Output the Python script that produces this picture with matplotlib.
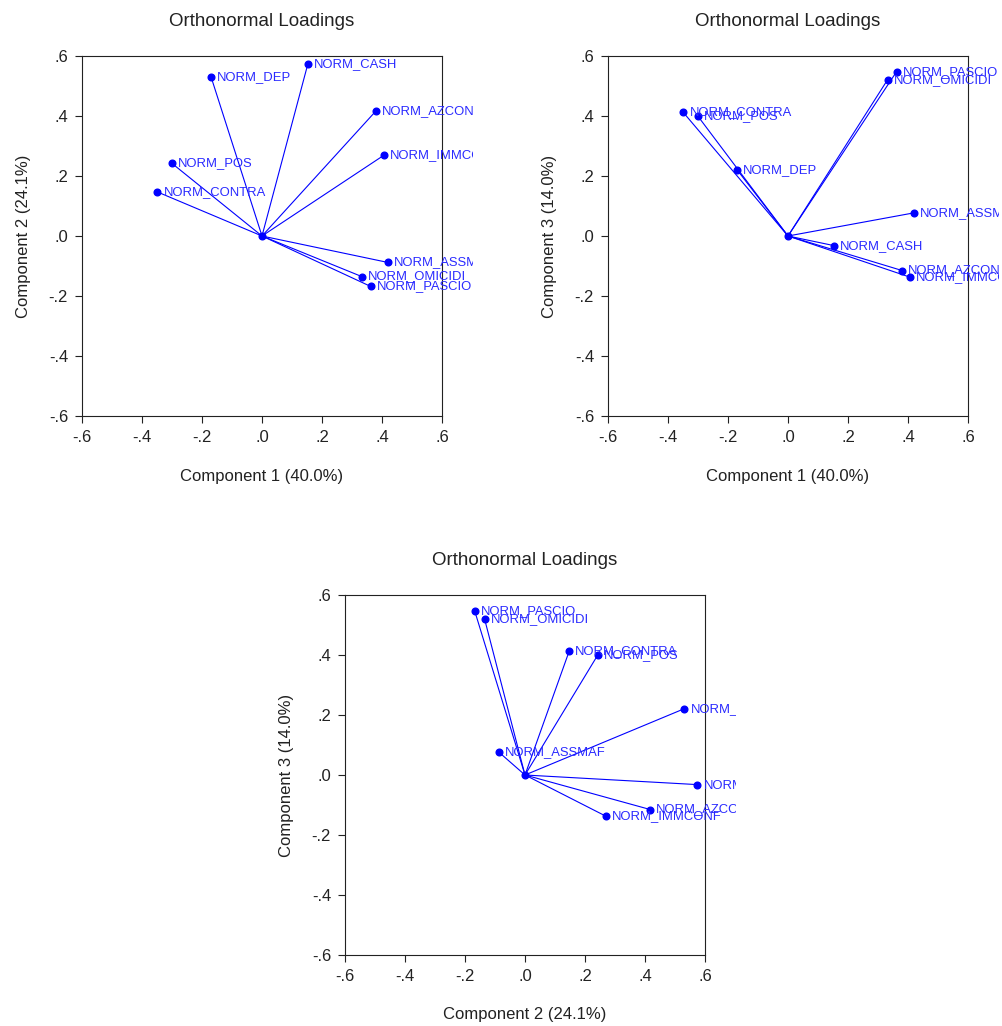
import matplotlib
matplotlib.use("Agg")
import matplotlib.pyplot as plt
from matplotlib.transforms import Bbox, TransformedBbox
from matplotlib.ticker import FuncFormatter, FixedLocator

plt.rcParams['font.family'] = ['Liberation Sans', 'DejaVu Sans']

# loadings of the nine normalised variables on the first three components
variables = ["NORM_DEP", "NORM_CASH", "NORM_AZCONF", "NORM_IMMCONF", "NORM_POS",
             "NORM_CONTRA", "NORM_ASSMAF", "NORM_OMICIDI", "NORM_PASCIO"]
comp1 = [-0.170, 0.153, 0.380, 0.406, -0.300, -0.349, 0.419, 0.332, 0.362]
comp2 = [0.531, 0.574, 0.417, 0.269, 0.242, 0.147, -0.088, -0.135, -0.168]
comp3 = [0.221, -0.032, -0.115, -0.137, 0.399, 0.412, 0.077, 0.521, 0.548]

axis_labels = {1: "Component 1 (40.0%)", 2: "Component 2 (24.1%)", 3: "Component 3 (14.0%)"}
scores = {1: comp1, 2: comp2, 3: comp3}
ticks = [-0.6, -0.4, -0.2, 0.0, 0.2, 0.4, 0.6]

W, H = 1003, 1026
fig = plt.figure(figsize=(W / 100, H / 100), dpi=100)


def fmt(v, pos=None):
    s = "%.1f" % v
    if s == "-0.0":
        s = "0.0"
    return s.replace("0.", ".", 1)


def panel(left, top, cx, cy):
    # left / top in pixels, square box of 360 px
    size = 360
    rect = [left / W, (H - top - size) / H, size / W, size / H]
    ax = fig.add_axes(rect)
    xs, ys = scores[cx], scores[cy]
    for x, y in zip(xs, ys):
        ax.plot([0, x], [0, y], color="#0000ff", lw=0.8)
    ax.plot(xs, ys, "o", color="#0000ff", ms=4.8)
    ax.plot([0], [0], "o", color="#0000ff", ms=4.8)

    # names may run a little past the right edge of the box
    clip = TransformedBbox(Bbox.from_extents(rect[0], rect[1], rect[0] + (size + 31) / W,
                                             rect[1] + rect[3]), fig.transFigure)
    for name, x, y in zip(variables, xs, ys):
        t = ax.annotate(name, (x, y), xytext=(4.5, 0), textcoords="offset points",
                        va="center", ha="left", fontsize=9.4, color="#2a2aff",
                        annotation_clip=False)
        t.set_clip_box(clip)
        t.set_clip_on(True)

    ax.set_xlim(-0.6, 0.6)
    ax.set_ylim(-0.6, 0.6)
    ax.xaxis.set_major_locator(FixedLocator(ticks))
    ax.yaxis.set_major_locator(FixedLocator(ticks))
    ax.xaxis.set_major_formatter(FuncFormatter(fmt))
    ax.yaxis.set_major_formatter(FuncFormatter(fmt))
    ax.tick_params(direction="out", length=5, width=0.8, labelsize=12,
                   colors="#222222", pad=5)
    for sp in ax.spines.values():
        sp.set_linewidth(0.8)
        sp.set_color("#222222")
    ax.set_xlabel(axis_labels[cx], fontsize=12, labelpad=17, color="#222222")
    ax.set_ylabel(axis_labels[cy], fontsize=12, labelpad=12.5, color="#222222")
    ax.set_title("Orthonormal Loadings", fontsize=13.5, pad=21.5, color="#222222")
    return ax


panel(82, 56, 1, 2)
panel(608, 56, 1, 3)
panel(345, 595, 2, 3)

fig.savefig("out.png", dpi=100)
